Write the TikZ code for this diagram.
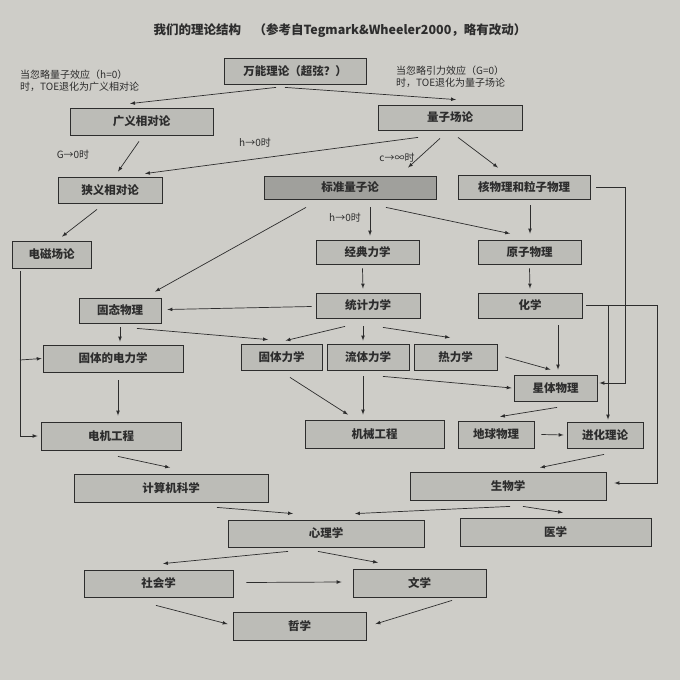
\documentclass[tikz,border=0pt]{standalone}
\usepackage{fontspec}
\setmainfont{Noto Sans CJK SC}
\usetikzlibrary{calc}
\definecolor{paper}{RGB}{206,205,200}
\definecolor{boxf}{RGB}{188,188,183}
\definecolor{boxd}{RGB}{160,160,156}
\definecolor{ink}{RGB}{45,45,45}
\begin{document}
\begin{tikzpicture}[x=1pt,y=-1pt,
  box/.style={draw=ink,line width=0.8pt,fill=boxf,inner sep=0pt,font=\fontsize{11.5}{13}\selectfont\bfseries,text=ink},
  arr/.style={draw=ink,line width=0.7pt,-{latex}},
  lbl/.style={font=\fontsize{10}{12.5}\selectfont,text=ink,inner sep=0pt}]
\fill[paper] (0,0) rectangle (680,680);
\useasboundingbox (0,0) rectangle (680,680);
\node[font=\fontsize{12.5}{14}\selectfont\bfseries,text=ink] (title) at (340,31) {我们的理论结构\quad（参考自Tegmark\&Wheeler2000，略有改动）};
\node[lbl,anchor=west,align=left] (nl) at (20,81) {当忽略量子效应（h=0）\\时，TOE退化为广义相对论};
\node[lbl,anchor=west,align=left] (nr) at (396,77) {当忽略引力效应（G=0）\\时，TOE退化为量子场论};
\node[lbl] (l1) at (255,143) {h→0时};
\node[lbl] (l2) at (397,158) {c→∞时};
\node[lbl] (l3) at (345,218) {h→0时};
\node[lbl] (l4) at (73,155) {G→0时};
\node[box,minimum width=142,minimum height=26] (top) at (295,71) {万能理论（超弦？）};
\node[box,minimum width=143,minimum height=27] (gr) at (141.5,121.5) {广义相对论};
\node[box,minimum width=144,minimum height=25] (qft) at (450,117.5) {量子场论};
\node[box,minimum width=104,minimum height=26] (sr) at (110,190) {狭义相对论};
\node[box,fill=boxd,minimum width=172,minimum height=23] (sqm) at (350,187.5) {标准量子论};
\node[box,minimum width=132,minimum height=24] (nuc) at (524,187) {核物理和粒子物理};
\node[box,minimum width=79,minimum height=27] (em) at (51.5,254.5) {电磁场论};
\node[box,minimum width=103,minimum height=24] (cm) at (367.5,252) {经典力学};
\node[box,minimum width=103,minimum height=24] (at) at (529.5,252) {原子物理};
\node[box,minimum width=82,minimum height=25] (ss) at (120,310.5) {固态物理};
\node[box,minimum width=104,minimum height=25] (stat) at (368,305.5) {统计力学};
\node[box,minimum width=104,minimum height=25] (chem) at (530,305.5) {化学};
\node[box,minimum width=140,minimum height=27] (sed) at (113,358.5) {固体的电力学};
\node[box,minimum width=81,minimum height=26] (sm) at (281.5,357) {固体力学};
\node[box,minimum width=82,minimum height=26] (fm) at (368,357) {流体力学};
\node[box,minimum width=83,minimum height=26] (th) at (455.5,357) {热力学};
\node[box,minimum width=83,minimum height=26] (ast) at (555.5,388) {星体物理};
\node[box,minimum width=140,minimum height=28] (ee) at (111,436) {电机工程};
\node[box,minimum width=139,minimum height=28] (me) at (374.5,434) {机械工程};
\node[box,minimum width=76,minimum height=27] (geo) at (496,434.5) {地球物理};
\node[box,minimum width=76,minimum height=26] (evo) at (605,435) {进化理论};
\node[box,minimum width=194,minimum height=28] (cs) at (171,488) {计算机科学};
\node[box,minimum width=196,minimum height=28] (bio) at (508,486) {生物学};
\node[box,minimum width=196,minimum height=27] (psy) at (326,533.5) {心理学};
\node[box,minimum width=191,minimum height=28] (med) at (555.5,532) {医学};
\node[box,minimum width=149,minimum height=27] (soc) at (158.5,583.5) {社会学};
\node[box,minimum width=133,minimum height=28] (lit) at (419.5,583) {文学};
\node[box,minimum width=133,minimum height=28] (phi) at (299.5,626) {哲学};
\draw[arr] ([shift={(-19,3)}]top.south) -- ([shift={(-11.5,-4)}]gr.north);
\draw[arr] ([shift={(-10,3)}]top.south) -- ([shift={(6,-5)}]qft.north);
\draw[arr] ([shift={(-2.5,6)}]gr.south) -- ([shift={(8,-5)}]sr.north);
\draw[arr] ([shift={(-32,7)}]qft.south) -- ([shift={(35,-3)}]sr.north);
\draw[arr] ([shift={(-10,8)}]qft.south) -- ([shift={(58,-8)}]sqm.north);
\draw[arr] ([shift={(8,7)}]qft.south) -- ([shift={(-26,-7)}]nuc.north);
\draw[arr] ([shift={(-13,6)}]sr.south) -- ([shift={(10.5,-4)}]em.north);
\draw[arr] ([shift={(-44,8)}]sqm.south) -- ([shift={(35,-6)}]ss.north);
\draw[arr] ([shift={(20,8)}]sqm.south) -- ([shift={(2.5,-4)}]cm.north);
\draw[arr] ([shift={(36,8)}]sqm.south) -- ([shift={(-19.5,-6)}]at.north);
\draw[arr] ([shift={(6,6)}]nuc.south) -- ([shift={(0.5,-6)}]at.north);
\draw[arr] ([xshift=6]nuc.east) -- ++(29,0) |- ([shift={(2,-5)}]ast.east);
\coordinate (emb) at (20,360);
\draw[arr] ([shift={(-31,3)}]em.south) |- ([xshift=-3]ee.west);
\draw[arr] (emb) -- ([xshift=-1]sed.west);
\draw[arr] ([shift={(-5,4)}]cm.south) -- ([shift={(-5,-4)}]stat.north);
\draw[arr] ([shift={(0,4)}]at.south) -- ([shift={(0,-4)}]chem.north);
\draw[arr] ([shift={(-4,1)}]stat.west) -- ([shift={(6,-1)}]ss.east);
\draw[arr] ([shift={(0,4)}]ss.south) -- ([shift={(7,-3)}]sed.north);
\draw[arr] ([shift={(17,5)}]ss.south) -- ([shift={(-13.5,-4)}]sm.north);
\draw[arr] ([shift={(-23,8)}]stat.south) -- ([shift={(4,-3)}]sm.north);
\draw[arr] ([shift={(-5,8)}]stat.south) -- ([shift={(-5,-3)}]fm.north);
\draw[arr] ([shift={(15,9)}]stat.south) -- ([shift={(-5.5,-6)}]th.north);
\draw[arr] ([xshift=4]chem.east) -| ([shift={(3,-2)}]evo.north);
\draw[arr] ([xshift=4]chem.east) -- ++(71,0) |- ([shift={(8,-3)}]bio.east);
\draw[arr] ([shift={(28,7)}]chem.south) -- ([shift={(2.5,-5)}]ast.north);
\draw[arr] ([xshift=8]th.east) -- ([shift={(-5,-5)}]ast.north);
\draw[arr] ([shift={(15,6)}]fm.south) -- ([xshift=-2]ast.west);
\draw[arr] ([shift={(8.5,7)}]sm.south) -- ([shift={(-26.5,-5)}]me.north);
\draw[arr] ([shift={(-5,6)}]fm.south) -- ([shift={(-11.5,-5)}]me.north);
\draw[arr] ([shift={(5,8)}]sed.south) -- ([shift={(7,-6)}]ee.north);
\draw[arr] ([shift={(1.5,6)}]ast.south) -- ([shift={(4,-4)}]geo.north);
\draw[arr] ([xshift=7]geo.east) -- ([xshift=-3]evo.west);
\draw[arr] ([shift={(-1,6)}]evo.south) -- ([shift={(32,-4)}]bio.north);
\draw[arr] ([shift={(7,6)}]ee.south) -- ([shift={(-1,-6)}]cs.north);
\draw[arr] ([shift={(46,5)}]cs.south) -- ([shift={(-33,-6)}]psy.north);
\draw[arr] ([shift={(2,6)}]bio.south) -- ([shift={(29,-6)}]psy.north);
\draw[arr] ([shift={(15,6)}]bio.south) -- ([shift={(7.5,-5)}]med.north);
\draw[arr] ([shift={(-38,4)}]psy.south) -- ([shift={(4.5,-6)}]soc.north);
\draw[arr] ([shift={(-8,4)}]psy.south) -- ([shift={(-41.5,-6)}]lit.north);
\draw[arr] ([shift={(13,-1)}]soc.east) -- ([shift={(-11,-1)}]lit.west);
\draw[arr] ([shift={(-2.5,8)}]soc.south) -- ([shift={(-5,-2)}]phi.west);
\draw[arr] ([shift={(32.5,3)}]lit.south) -- ([shift={(9,-2)}]phi.east);
\end{tikzpicture}
\end{document}
